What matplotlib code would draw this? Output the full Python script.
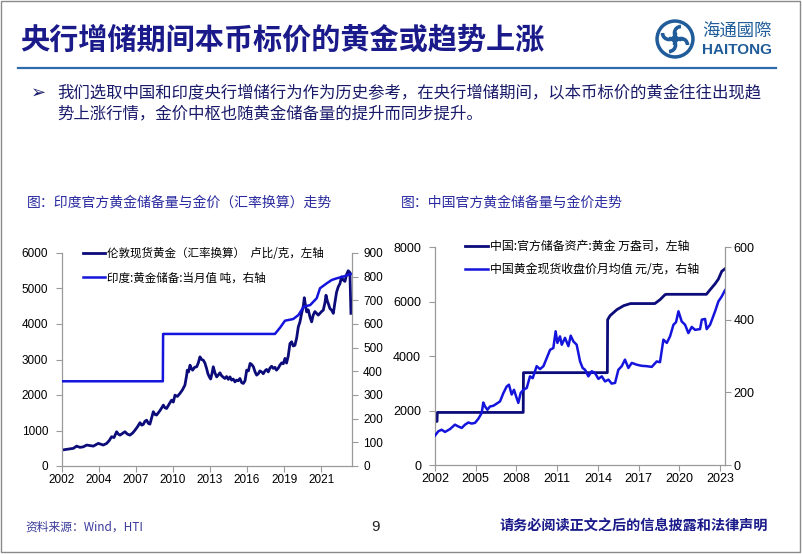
import matplotlib.pyplot as plt
from matplotlib.patches import Circle, Arc, Rectangle

plt.rcParams['font.family'] = ['Liberation Sans', 'Noto Sans CJK SC', 'DejaVu Sans']
CJK = ['Noto Sans CJK SC', 'DejaVu Sans']

# ---- India: gold price in INR/gram (left axis) and official reserves in tonnes (right axis)
india_price_t = [2002.00, 2002.36, 2002.87, 2003.12, 2003.38, 2003.63, 2003.89, 2004.14, 2004.40, 2004.78,
                 2005.16, 2005.42, 2005.62, 2005.80, 2005.98, 2006.18, 2006.31, 2006.44, 2006.64, 2006.82,
                 2007.00, 2007.20, 2007.41, 2007.59, 2007.77, 2007.97, 2008.10, 2008.22, 2008.35, 2008.48,
                 2008.61, 2008.73, 2008.86, 2008.99, 2009.12, 2009.24, 2009.37, 2009.50, 2009.76, 2009.88,
                 2010.01, 2010.21, 2010.39, 2010.52, 2010.65, 2010.83, 2011.03, 2011.23, 2011.41, 2011.54,
                 2011.59, 2011.69, 2011.80, 2011.90, 2012.00, 2012.15, 2012.31, 2012.43, 2012.56, 2012.69,
                 2012.82, 2012.94, 2013.07, 2013.17, 2013.28, 2013.38, 2013.48, 2013.58, 2013.71, 2013.84,
                 2013.96, 2014.09, 2014.22, 2014.35, 2014.47, 2014.60, 2014.73, 2014.86, 2014.98, 2015.11,
                 2015.24, 2015.37, 2015.49, 2015.62, 2015.75, 2015.88, 2016.01, 2016.14, 2016.27, 2016.40,
                 2016.52, 2016.65, 2016.78, 2016.90, 2017.03, 2017.15, 2017.28, 2017.41, 2017.54, 2017.66,
                 2017.79, 2017.92, 2018.05, 2018.17, 2018.30, 2018.42, 2018.56, 2018.68, 2018.81, 2018.94,
                 2019.07, 2019.19, 2019.32, 2019.45, 2019.58, 2019.70, 2019.83, 2019.96, 2020.09, 2020.21,
                 2020.34, 2020.47, 2020.55, 2020.65, 2020.73, 2020.85, 2020.98, 2021.11, 2021.23, 2021.36,
                 2021.49, 2021.62, 2021.75, 2021.87, 2022.00, 2022.13, 2022.21, 2022.31, 2022.41, 2022.51,
                 2022.64, 2022.77, 2022.89, 2023.02, 2023.15, 2023.28, 2023.40, 2023.52, 2023.66, 2023.79,
                 2023.91, 2024.04, 2024.12]
india_price = [450, 470, 497, 560, 525, 540, 590, 575, 560, 637,
               590, 637, 720, 825, 800, 965, 900, 870, 920, 965,
               900, 870, 930, 1010, 1100, 1220, 1150, 1170, 1260, 1290,
               1200, 1180, 1350, 1530, 1450, 1435, 1500, 1560, 1715, 1640,
               1620, 1750, 1855, 1800, 1995, 1960, 2045, 2150, 2280, 2550,
               2700, 2650, 2840, 2750, 2700, 2780, 2795, 2900, 3075, 3000,
               2980, 2900, 2745, 2600, 2510, 2450, 2600, 2795, 2620, 2510,
               2560, 2625, 2540, 2500, 2465, 2520, 2440, 2510, 2420, 2450,
               2370, 2420, 2400, 2465, 2350, 2325, 2400, 2700, 2680, 2890,
               2860, 2795, 2650, 2560, 2600, 2680, 2650, 2600, 2680, 2720,
               2650, 2760, 2810, 2750, 2780, 2700, 2760, 2840, 2905, 2880,
               3030, 2900, 3100, 3450, 3500, 3380, 3400, 3600, 3920, 4050,
               4295, 4500, 4740, 4500, 4340, 4400, 4200, 4060, 4250, 4350,
               4300, 4250, 4300, 4350, 4390, 4600, 4810, 4650, 4550, 4435,
               4390, 4300, 4600, 4900, 5050, 5140, 5330, 5240, 5200, 5400,
               5500, 5450, 4300]
india_res_t = [2002.0, 2009.72, 2009.74, 2018.3, 2018.7, 2019.07, 2019.7, 2020.1, 2020.5, 2021.0,
               2021.5, 2021.75, 2022.27, 2022.65, 2023.03, 2023.5, 2024.12]
india_res = [358, 358, 558, 558, 585, 614, 621, 638, 673, 680,
             709, 751, 772, 786, 793, 800, 811]
india_ticks = [2002 + k * 34 / 12 for k in range(8)]
india_tick_labels = ['2002', '2004', '2007', '2010', '2013', '2016', '2019', '2021']

# ---- China: official reserves in 10k oz (left axis) and monthly avg gold price yuan/gram (right axis)
china_res_t = [2002.0, 2002.15, 2002.17, 2008.5, 2008.52, 2014.7, 2014.72, 2014.9, 2015.4, 2015.9,
               2016.4, 2018.2, 2018.58, 2018.95, 2019.05, 2022.0, 2022.27, 2022.64, 2022.88, 2023.13, 2023.37]
china_res = [1600, 1600, 1929, 1929, 3389, 3389, 5331, 5480, 5700, 5846,
             5924, 5924, 6066, 6250, 6264, 6264, 6430, 6650, 6820, 7106, 7200]
china_price_t = [2002.00, 2002.25, 2002.49, 2002.74, 2003.11, 2003.47, 2003.72, 2003.97, 2004.21, 2004.46,
                 2004.70, 2004.95, 2005.19, 2005.44, 2005.56, 2005.69, 2005.86, 2006.05, 2006.30, 2006.55,
                 2006.79, 2007.04, 2007.28, 2007.45, 2007.65, 2007.82, 2008.02, 2008.14, 2008.31, 2008.51,
                 2008.76, 2009.00, 2009.20, 2009.49, 2009.74, 2009.99, 2010.23, 2010.48, 2010.72, 2010.89,
                 2011.02, 2011.21, 2011.34, 2011.58, 2011.83, 2012.00, 2012.20, 2012.44, 2012.69, 2012.88,
                 2013.06, 2013.30, 2013.55, 2013.79, 2014.04, 2014.29, 2014.53, 2014.78, 2015.02, 2015.27,
                 2015.51, 2015.76, 2016.00, 2016.25, 2016.50, 2016.87, 2017.23, 2017.60, 2017.97, 2018.34,
                 2018.58, 2018.83, 2019.08, 2019.32, 2019.57, 2019.76, 2019.94, 2020.18, 2020.43, 2020.67,
                 2020.92, 2021.16, 2021.53, 2021.66, 2021.90, 2022.02, 2022.27, 2022.64, 2022.88, 2023.13,
                 2023.37]
china_price = [81, 93, 97, 91, 99, 111, 106, 102, 111, 117,
               114, 116, 127, 143, 172, 161, 152, 161, 163, 169,
               175, 198, 216, 221, 194, 207, 184, 171, 198, 207,
               212, 244, 239, 272, 264, 272, 294, 317, 322, 368,
               336, 354, 331, 350, 327, 356, 340, 331, 285, 267,
               262, 244, 258, 253, 237, 244, 230, 235, 224, 226,
               262, 272, 290, 267, 281, 276, 273, 272, 270, 285,
               283, 345, 336, 354, 386, 393, 423, 395, 386, 363,
               380, 372, 374, 400, 402, 374, 386, 423, 450, 464,
               481]
china_ticks = [2002, 2005, 2008, 2011, 2014, 2017, 2020, 2023]

NAVY = '#0b0b7a'
BLUE = '#1414dc'
GRID = '#9a9a9a'
W, H = 802, 554

fig = plt.figure(figsize=(W / 100, H / 100), dpi=100)

# page decoration in pixel coordinates
bg = fig.add_axes([0, 0, 1, 1], zorder=-1)
bg.set_xlim(0, W)
bg.set_ylim(H, 0)
bg.axis('off')
bg.add_patch(Rectangle((1, 1), W - 3, H - 3, fill=False, ec='#8a8a8a', lw=1))
bg.text(20, 40, '央行增储期间本币标价的黄金或趋势上涨', fontsize=21, weight='bold',
        color='#1a1a8a', va='center', ha='left', family=CJK)
bg.plot([18, 776], [68, 68], color='#2f6aaa', lw=1.6)
# logo
bg.add_patch(Circle((675, 39), 19, color='#1f5c99'))
bg.add_patch(Circle((675, 39), 15.5, color='white'))
for dx, dy, a in [(-6, -6, 0), (6, -6, 90), (6, 6, 180), (-6, 6, 270)]:
    bg.add_patch(Arc((675 + dx, 39 + dy), 13, 13, theta1=a, theta2=a + 180, color='#1f5c99', lw=2.6))
bg.plot([669, 681], [39, 39], color='#1f5c99', lw=2)
bg.plot([675, 675], [33, 45], color='#1f5c99', lw=2)
bg.text(702, 32, '海通國際', fontsize=12.5, color='#1f5c99', va='center', ha='left', family=CJK)
bg.text(702, 50, 'HAITONG', fontsize=11, weight='bold', color='#1f5c99', va='center', ha='left')

bg.text(31, 93, '➢', fontsize=13, color='#1a1a6a', va='center', ha='left', family=['DejaVu Sans'])
bg.text(57, 93, '我们选取中国和印度央行增储行为作为历史参考，在央行增储期间，以本币标价的黄金往往出现趋',
        fontsize=11.8, color='#1a1a6a', va='center', ha='left', family=CJK)
bg.text(57, 114, '势上涨行情，金价中枢也随黄金储备量的提升而同步提升。',
        fontsize=11.8, color='#1a1a6a', va='center', ha='left', family=CJK)

bg.text(27, 203, '图：印度官方黄金储备量与金价（汇率换算）走势', fontsize=10, color='#2a2aa0',
        va='center', ha='left', family=CJK)
bg.text(401, 203, '图：中国官方黄金储备量与金价走势', fontsize=10, color='#2a2aa0',
        va='center', ha='left', family=CJK)

bg.text(25, 527, '资料来源：Wind，HTI', fontsize=8.5, color='#3a3a9a', va='center', ha='left', family=CJK)
bg.text(375, 527, '9', fontsize=11, color='#222222', va='center', ha='center')
bg.text(768, 527, '请务必阅读正文之后的信息披露和法律声明', fontsize=10.2, weight='bold',
        color='#1a1a8a', va='center', ha='right', family=CJK)


def style(ax, ax2, lpad, rpad, fs):
    for a in (ax, ax2):
        a.set_facecolor('none')
        for s in a.spines.values():
            s.set_color(GRID)
            s.set_linewidth(0.9)
        a.spines['top'].set_visible(False)
    ax.spines['right'].set_visible(False)
    ax2.spines['left'].set_visible(False)
    ax2.spines['bottom'].set_visible(False)
    ax.tick_params(axis='y', direction='out', length=4, color=GRID, pad=lpad, labelsize=fs)
    ax.tick_params(axis='x', direction='out', length=4, color=GRID, pad=2, labelsize=fs)
    ax2.tick_params(axis='y', direction='out', length=4, color=GRID, pad=rpad, labelsize=fs)


# ---- left chart
ax = fig.add_axes([62 / W, 1 - 466 / H, 290 / W, 213 / H])
ax2 = ax.twinx()
l1, = ax.plot(india_price_t, india_price, color=NAVY, lw=2.0)
l2, = ax2.plot(india_res_t, india_res, color=BLUE, lw=1.8)
ax.set_xlim(2002, 2024.2)
ax.set_ylim(0, 6000)
ax2.set_ylim(0, 900)
ax.set_yticks(range(0, 6001, 1000))
ax2.set_yticks(range(0, 901, 100))
ax.set_xticks(india_ticks)
ax.set_xticklabels(india_tick_labels)
style(ax, ax2, 6, 4, 8.5)
ax2.legend([l1, l2], ['伦敦现货黄金（汇率换算）  卢比/克，左轴', '印度:黄金储备:当月值 吨，右轴'],
           loc='upper left', bbox_to_anchor=(83 / W, 1 - 247 / H), bbox_transform=fig.transFigure,
           frameon=False, handlelength=1.9, handletextpad=0.2, labelspacing=1.0,
           borderpad=0, borderaxespad=0, prop={'family': CJK, 'size': 8.3})

# ---- right chart
bx = fig.add_axes([435 / W, 1 - 465 / H, 290 / W, 218 / H])
bx2 = bx.twinx()
m1, = bx.plot(china_res_t, china_res, color=NAVY, lw=2.0)
m2, = bx2.plot(china_price_t, china_price, color=BLUE, lw=1.8)
bx.set_xlim(2002, 2023.37)
bx.set_ylim(0, 8000)
bx2.set_ylim(0, 600)
bx.set_yticks(range(0, 8001, 2000))
bx2.set_yticks(range(0, 601, 200))
bx.set_xticks(china_ticks)
bx.set_xticklabels([str(t) for t in china_ticks])
style(bx, bx2, 6, 2, 9)
bx2.legend([m1, m2], ['中国:官方储备资产:黄金 万盎司，左轴', '中国黄金现货收盘价月均值 元/克，右轴'],
           loc='upper left', bbox_to_anchor=(465 / W, 1 - 240 / H), bbox_transform=fig.transFigure,
           frameon=False, handlelength=1.9, handletextpad=0.2, labelspacing=0.85,
           borderpad=0, borderaxespad=0, prop={'family': CJK, 'size': 8.6})

fig.savefig('out.png', dpi=100)
